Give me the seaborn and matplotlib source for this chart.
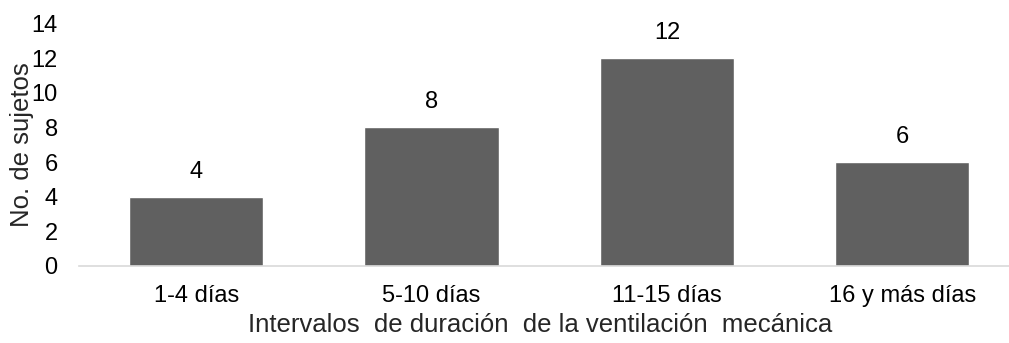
import matplotlib
matplotlib.use("Agg")
import matplotlib.pyplot as plt
import seaborn as sns
import pandas as pd

categories = ["1-4 días", "5-10 días", "11-15 días", "16 y más días"]
counts = [4, 8, 12, 6]
y_ticks = [0, 2, 4, 6, 8, 10, 12, 14]

sns.set_theme(style="white")
plt.rcParams["font.family"] = ["Liberation Sans", "DejaVu Sans"]

df = pd.DataFrame({"intervalo": categories, "sujetos": counts})

fig = plt.figure(figsize=(10.09, 3.43), dpi=100)
ax = fig.add_axes([78.5 / 1009, (343 - 266) / 343, (1009 - 78.5) / 1009, (266 - 23.5) / 343])

sns.barplot(data=df, x="intervalo", y="sujetos", color="#606060", saturation=1,
            width=0.57, ax=ax)

for p, v in zip(ax.patches, counts):
    ax.annotate(str(v), (p.get_x() + p.get_width() / 2, v),
                xytext=(0, 18), textcoords="offset points",
                ha="center", va="center", fontsize=17, color="#000000")

ax.set_ylim(0, 14)
ax.set_xlim(-0.5, 3.5 - 11 / 235)
ax.set_yticks(y_ticks)
ax.set_yticklabels([str(t) for t in y_ticks])
ax.tick_params(axis="y", length=0, pad=15, labelsize=17, labelcolor="#000000")
ax.tick_params(axis="x", length=0, pad=14, labelsize=17, labelcolor="#000000")

for side in ["left", "right", "top"]:
    ax.spines[side].set_visible(False)
ax.spines["bottom"].set_color("#d9d9d9")
ax.spines["bottom"].set_linewidth(1.2)

ax.set_xlabel("Intervalos  de duración  de la ventilación  mecánica", fontsize=18.5)
ax.xaxis.set_label_coords((540 - 78.5) / (1009 - 78.5), -(325 - 266) / (266 - 23.5))
ax.xaxis.label.set_va("center")
ax.set_ylabel("No. de sujetos", fontsize=18.5)
ax.yaxis.set_label_coords(-(78.5 - 22) / (1009 - 78.5), 0.5)
ax.yaxis.label.set_va("center")

fig.savefig("out.png", dpi=100)
